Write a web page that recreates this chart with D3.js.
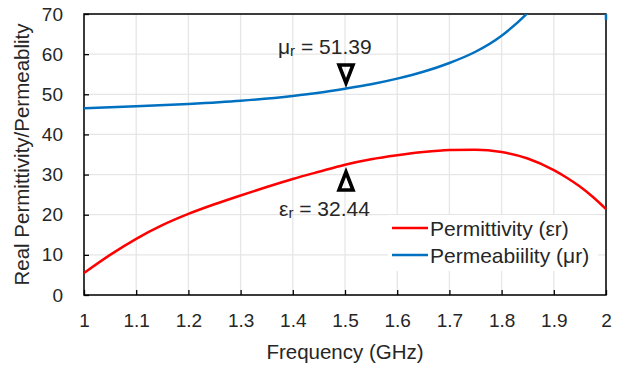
<html>
<head>
<script src="https://d3js.org/d3.v7.min.js"></script>
<style>
  body { margin: 0; background: #fff; }
  text { font-family: "Liberation Sans", Arial, sans-serif; fill: #262626; }
</style>
</head>
<body>
<script>
var freq = [1.0, 1.05, 1.1, 1.15, 1.2, 1.25, 1.3, 1.35, 1.4, 1.45, 1.5, 1.55, 1.6, 1.65, 1.7, 1.75, 1.8, 1.85, 1.9, 1.925, 1.95, 1.975, 2.0];
var permittivity = [5.5, 10.0, 14.0, 17.4, 20.2, 22.6, 24.8, 26.9, 28.9, 30.7, 32.44, 33.8, 34.8, 35.6, 36.1, 36.2, 35.6, 34.0, 31.1, 29.2, 27.0, 24.4, 21.4];
var muFreq = [1.0, 1.1, 1.2, 1.3, 1.4, 1.45, 1.5, 1.55, 1.6, 1.65, 1.7, 1.75, 1.8, 1.85, 1.9, 1.995, 2.0];
var permeability = [46.5, 47.0, 47.6, 48.4, 49.6, 50.4, 51.39, 52.5, 53.9, 55.6, 57.8, 60.6, 64.6, 70.3, 78, 150, 68.5];
var xTicks = [1, 1.1, 1.2, 1.3, 1.4, 1.5, 1.6, 1.7, 1.8, 1.9, 2];
var yTicks = [0, 10, 20, 30, 40, 50, 60, 70];

var W = 627, H = 367;
var m = {left: 84, right: 21, top: 14, bottom: 72};
var svg = d3.select("body").append("svg").attr("width", W).attr("height", H);
var x = d3.scaleLinear().domain([1, 2]).range([m.left, W - m.right]);
var y = d3.scaleLinear().domain([0, 70]).range([H - m.bottom, m.top]);

svg.append("defs").append("clipPath").attr("id", "clip")
  .append("rect").attr("x", m.left).attr("y", m.top)
  .attr("width", x(2) - m.left + 2).attr("height", y(0) - m.top);

// grid
svg.append("g").selectAll("line").data(yTicks).enter().append("line")
  .attr("x1", x(1)).attr("x2", x(2)).attr("y1", d => y(d)).attr("y2", d => y(d))
  .attr("stroke", "#e6e6e6").attr("stroke-width", 1.3);
svg.append("g").selectAll("line").data(xTicks).enter().append("line")
  .attr("y1", y(0)).attr("y2", y(70)).attr("x1", d => x(d)).attr("x2", d => x(d))
  .attr("stroke", "#e6e6e6").attr("stroke-width", 1.3);

// axes
var xAxis = svg.append("g").attr("transform", "translate(0," + y(0) + ")")
  .call(d3.axisBottom(x).tickValues(xTicks).tickSize(-5).tickPadding(19).tickFormat(d3.format("")));
var yAxis = svg.append("g").attr("transform", "translate(" + x(1) + ",0)")
  .call(d3.axisLeft(y).tickValues(yTicks).tickSize(-5).tickPadding(21));
[xAxis, yAxis].forEach(function (a) {
  a.select(".domain").remove();
  a.selectAll("text").style("font-size", "19px").attr("fill", "#262626")
    .style("font-family", "'Liberation Sans', Arial, sans-serif");
  a.selectAll("line").attr("stroke", "#000").attr("stroke-width", 1.3);
});

svg.append("rect").attr("x", x(1)).attr("y", y(70))
  .attr("width", x(2) - x(1)).attr("height", y(0) - y(70))
  .attr("fill", "none").attr("stroke", "#000").attr("stroke-width", 1.5);

// lines
var gl = svg.append("g").attr("clip-path", "url(#clip)");
gl.append("path").datum(freq.map((f, i) => [f, permittivity[i]]))
  .attr("fill", "none").attr("stroke", "#ff0000").attr("stroke-width", 2.5)
  .attr("d", d3.line().x(d => x(d[0])).y(d => y(d[1])).curve(d3.curveMonotoneX));
gl.append("path").datum(muFreq.map((f, i) => [f, permeability[i]]))
  .attr("fill", "none").attr("stroke", "#0070c0").attr("stroke-width", 2.5)
  .attr("d", d3.line().x(d => x(d[0])).y(d => y(d[1])).curve(d3.curveMonotoneX));

// annotations
var mu = svg.append("text").attr("x", 278).attr("y", 54).style("font-size", "21px");
mu.append("tspan").text("μ");
mu.append("tspan").text("r").style("font-size", "15px").attr("dy", 2);
mu.append("tspan").text(" = 51.39").attr("dy", -2);
var ep = svg.append("text").attr("x", 279).attr("y", 216).style("font-size", "21px");
ep.append("tspan").text("ε");
ep.append("tspan").text("r").style("font-size", "15px").attr("dy", 2);
ep.append("tspan").text(" = 32.44").attr("dy", -2);

var tx = x(1.5) + 1;
svg.append("path").attr("d", "M" + (tx - 7) + ",65 L" + (tx + 7) + ",65 L" + tx + ",83 Z")
  .attr("fill", "none").attr("stroke", "#000").attr("stroke-width", 3.6).attr("stroke-linejoin", "miter");
svg.append("path").attr("d", "M" + (tx - 7) + ",190 L" + (tx + 7) + ",190 L" + tx + ",172 Z")
  .attr("fill", "none").attr("stroke", "#000").attr("stroke-width", 3.6).attr("stroke-linejoin", "miter");

// legend
var legend = [["Permittivity (εr)", "#ff0000"], ["Permeabiility (μr)", "#0070c0"]];
svg.append("rect").attr("x", 388).attr("y", 215).attr("width", 210).attr("height", 56).attr("fill", "#fff");
legend.forEach(function (d, i) {
  var ly = 228 + i * 27;
  svg.append("line").attr("x1", 392).attr("x2", 428).attr("y1", ly).attr("y2", ly)
    .attr("stroke", d[1]).attr("stroke-width", 2.5);
  svg.append("text").attr("x", 430).attr("y", ly + 8).style("font-size", "21px").text(d[0]);
});

// titles
svg.append("text").attr("x", (x(1) + x(2)) / 2).attr("y", 359).attr("text-anchor", "middle")
  .style("font-size", "20.5px").text("Frequency (GHz)");
svg.append("text").attr("transform", "translate(29," + ((y(0) + y(70)) / 2) + ") rotate(-90)")
  .attr("text-anchor", "middle").style("font-size", "20.5px").text("Real Permittivity/Permeablity");
</script>
</body>
</html>
